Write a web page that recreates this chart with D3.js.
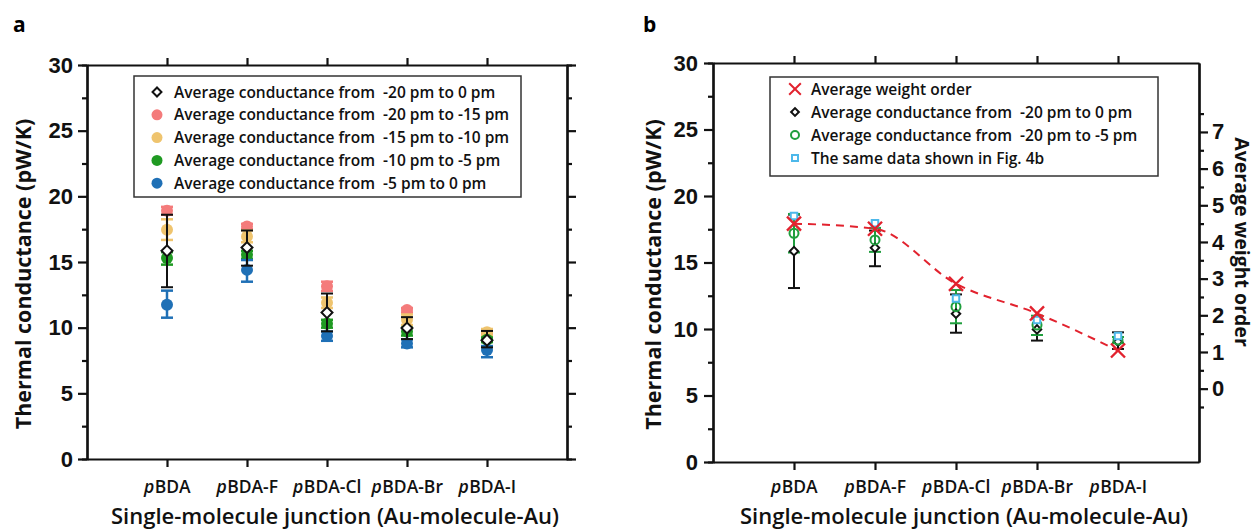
<!DOCTYPE html>
<html>
<head>
<meta charset="utf-8">
<script src="https://cdn.jsdelivr.net/npm/d3@7"></script>
<style>
  body { margin: 0; background: #fff; }
  svg { font-family: "Open Sans", "Noto Sans", sans-serif; }
  .leg { white-space: pre; }
</style>
</head>
<body>
<svg id="chart" width="1259" height="531"></svg>
<script>
// categories
const categories = ["BDA", "BDA-F", "BDA-Cl", "BDA-Br", "BDA-I"];

// average conductance -20 pm to 0 pm (both panels)
const avgAll = [15.85, 16.1, 11.15, 9.97, 9.05];
const avgAllLo = [13.08, 14.72, 9.72, 9.13, 8.5];
const avgAllHi = [18.6, 17.4, 12.6, 10.8, 9.75];

// panel a: windowed averages
const avg20to15 = [18.9, 17.7, 13.15, 11.35, 9.6];
const avg20to15Lo = [18.6, 17.5, 12.8, 11.15, 9.4];
const avg20to15Hi = [19.2, 17.9, 13.5, 11.5, 9.8];

const avg15to10 = [17.45, 16.95, 11.9, 10.6, 9.65];
const avg15to10Lo = [16.68, 16.5, 11.5, 10.2, 9.4];
const avg15to10Hi = [18.25, 17.4, 12.3, 11.0, 9.9];

const avg10to5 = [15.3, 15.55, 10.3, 9.7, 9.08];
const avg10to5Lo = [14.8, 15.25, 10.0, 9.4, 8.9];
const avg10to5Hi = [15.75, 15.85, 10.6, 10.0, 9.25];

const avg5to0 = [11.75, 14.4, 9.37, 8.8, 8.3];
const avg5to0Lo = [10.76, 13.5, 9.0, 8.5, 7.75];
const avg5to0Hi = [12.82, 15.15, 9.7, 9.1, 8.6];

// panel b
const weightOrder = [4.5, 4.36, 2.86, 2.05, 1.04];
const avg20to5 = [17.2, 16.7, 11.68, 10.3, 9.17];
const avg20to5Lo = [15.75, 15.8, 10.43, 9.55, 8.95];
const avg20to5Hi = [18.65, 17.6, 12.93, 11.0, 9.4];
const fig4b = [18.5, 17.95, 12.3, 10.68, 9.47];

const yTicks = [0, 5, 10, 15, 20, 25, 30];
const yMinor = [2.5, 7.5, 12.5, 17.5, 22.5, 27.5];
const wTicks = [0, 1, 2, 3, 4, 5, 6, 7];
const wMinor = [-0.5, 0.5, 1.5, 2.5, 3.5, 4.5, 5.5, 6.5, 7.5];

const svg = d3.select("#chart");
const idx = d3.range(categories.length);

function frame(g, x, y, o) {
  // minor ticks first
  g.append("g").attr("transform", `translate(${o.left},0)`)
    .call(d3.axisLeft(y).tickValues(yMinor).tickSize(5).tickFormat(""));
  const la = g.append("g").attr("transform", `translate(${o.left},0)`)
    .call(d3.axisLeft(y).tickValues(yTicks).tickSize(9).tickPadding(o.pad).tickSizeOuter(0));
  la.selectAll("text").attr("font-size", 22).attr("font-weight", 600).attr("fill", "#111");

  g.append("g").attr("transform", `translate(0,${o.bottom})`)
    .call(d3.axisBottom(x).tickValues(idx.map(i => i + 1)).tickSize(8).tickFormat("").tickSizeOuter(0));
  g.append("g").attr("transform", `translate(0,${o.top})`)
    .call(d3.axisTop(x).tickValues(idx.map(i => i + 1)).tickSize(7).tickFormat("").tickSizeOuter(0));

  g.selectAll(".domain, .tick line").attr("stroke", "#111").attr("stroke-width", 2.2);

  // category labels: italic "p" + name, centred on the tick
  categories.forEach((c, i) => {
    const lg = g.append("g");
    const pre = lg.append("text").attr("y", 493).attr("font-size", 17.5)
      .attr("font-weight", 600).attr("font-style", "italic").attr("fill", "#111").text("p");
    const rest = lg.append("text").attr("y", 493).attr("font-size", 17.5)
      .attr("font-weight", 600).attr("fill", "#111").text(c);
    const w1 = pre.node().getComputedTextLength();
    const w2 = rest.node().getComputedTextLength();
    const x0 = x(i + 1) - (w1 + w2) / 2;
    pre.attr("x", x0);
    rest.attr("x", x0 + w1 + 0.5);
  });

  g.append("text")
    .attr("x", (o.left + o.right) / 2 + 8)
    .attr("y", 524)
    .attr("text-anchor", "middle")
    .attr("font-size", 22)
    .attr("font-weight", 600)
    .attr("fill", "#111")
    .text("Single-molecule junction (Au-molecule-Au)");

  g.append("text")
    .attr("transform", `translate(${o.ytitle},${(o.top + o.bottom) / 2 + 12}) rotate(-90)`)
    .attr("text-anchor", "middle")
    .attr("font-size", 21.5)
    .attr("font-weight", 700)
    .attr("fill", "#111")
    .text("Thermal conductance (pW/K)");
}

function errBars(g, x, y, vals, lo, hi, color, cap, width) {
  const e = g.append("g").attr("stroke", color).attr("stroke-width", width || 2);
  idx.forEach(i => {
    const cx = x(i + 1);
    e.append("line").attr("x1", cx).attr("x2", cx).attr("y1", y(lo[i])).attr("y2", y(hi[i]));
    [lo[i], hi[i]].forEach(v => {
      e.append("line").attr("x1", cx - cap).attr("x2", cx + cap).attr("y1", y(v)).attr("y2", y(v));
    });
  });
}

function dots(g, x, y, vals, color, r) {
  g.append("g").selectAll("circle").data(vals).join("circle")
    .attr("cx", (d, i) => x(i + 1)).attr("cy", d => y(d))
    .attr("r", r).attr("fill", color);
}

function diamonds(g, x, y, vals, size, sw) {
  g.append("g").selectAll("path").data(vals).join("path")
    .attr("d", d3.symbol(d3.symbolSquare).size(size))
    .attr("transform", (d, i) => `translate(${x(i + 1)},${y(d)}) rotate(45)`)
    .attr("fill", "#fff").attr("stroke", "#111").attr("stroke-width", sw);
}

// ---------- panel a ----------
const oa = { left: 87, right: 567, top: 65, bottom: 459, pad: 5, ytitle: 31 };
const xa = d3.scaleLinear().domain([0, 6]).range([oa.left, oa.right]);
const ya = d3.scaleLinear().domain([0, 30]).range([oa.bottom, oa.top]);
const ga = svg.append("g");

// right axis ticks (no labels)
ga.append("g").attr("transform", `translate(${oa.right},0)`)
  .call(d3.axisRight(ya).tickValues(yMinor).tickSize(5).tickFormat(""));
ga.append("g").attr("transform", `translate(${oa.right},0)`)
  .call(d3.axisRight(ya).tickValues(yTicks).tickSize(9).tickFormat("").tickSizeOuter(0));
frame(ga, xa, ya, oa);

const seriesA = [
  { vals: avg20to15, lo: avg20to15Lo, hi: avg20to15Hi, color: "#f47b7b", label: "Average conductance from  -20 pm to -15 pm" },
  { vals: avg15to10, lo: avg15to10Lo, hi: avg15to10Hi, color: "#efc46e", label: "Average conductance from  -15 pm to -10 pm" },
  { vals: avg10to5, lo: avg10to5Lo, hi: avg10to5Hi, color: "#1f9a22", label: "Average conductance from  -10 pm to -5 pm" },
  { vals: avg5to0, lo: avg5to0Lo, hi: avg5to0Hi, color: "#1f70b6", label: "Average conductance from  -5 pm to 0 pm" }
];
seriesA.forEach(s => {
  errBars(ga, xa, ya, s.vals, s.lo, s.hi, s.color, 6, 2.5);
  dots(ga, xa, ya, s.vals, s.color, 6);
});
errBars(ga, xa, ya, avgAll, avgAllLo, avgAllHi, "#111", 6, 2);
diamonds(ga, xa, ya, avgAll, 60, 2);

// legend a
const lga = ga.append("g");
lga.append("rect").attr("x", 134).attr("y", 76).attr("width", 387).attr("height", 121)
  .attr("fill", "#fff").attr("stroke", "#333").attr("stroke-width", 1.5);
const legA = [{ label: "Average conductance from  -20 pm to 0 pm", diamond: true }].concat(seriesA);
legA.forEach((s, i) => {
  const ly = 92 + i * 22.8;
  if (s.diamond) {
    lga.append("path").attr("d", d3.symbol(d3.symbolSquare).size(40))
      .attr("transform", `translate(157,${ly}) rotate(45)`)
      .attr("fill", "#fff").attr("stroke", "#111").attr("stroke-width", 2);
  } else {
    lga.append("circle").attr("cx", 157).attr("cy", ly).attr("r", 5.5).attr("fill", s.color);
  }
  lga.append("text").attr("class", "leg").attr("x", 174).attr("y", ly + 5.5)
    .attr("font-size", 15.5).attr("font-weight", 600).attr("fill", "#111").text(s.label);
});

// ---------- panel b ----------
const ob = { left: 713, right: 1199, top: 63, bottom: 462, pad: 6, ytitle: 661 };
const xb = d3.scaleLinear().domain([0, 6]).range([ob.left, ob.right]);
const yb = d3.scaleLinear().domain([0, 30]).range([ob.bottom, ob.top]);
const wb = d3.scaleLinear().domain([-2, 8.88]).range([ob.bottom, ob.top]);
const gb = svg.append("g");

gb.append("g").attr("transform", `translate(${ob.right},0)`)
  .call(d3.axisRight(wb).tickValues(wMinor).tickSize(5).tickFormat("").tickSizeOuter(0));
const ra = gb.append("g").attr("transform", `translate(${ob.right},0)`)
  .call(d3.axisRight(wb).tickValues(wTicks).tickSize(9).tickPadding(4).tickSizeOuter(0));
ra.selectAll("text").attr("font-size", 22).attr("font-weight", 600).attr("fill", "#111");
frame(gb, xb, yb, ob);

gb.append("text")
  .attr("transform", `translate(1235,242) rotate(90)`)
  .attr("text-anchor", "middle")
  .attr("font-size", 19.5)
  .attr("font-weight", 700)
  .attr("fill", "#111")
  .text("Average weight order");

errBars(gb, xb, yb, avgAll, avgAllLo, avgAllHi, "#111", 6, 2);
errBars(gb, xb, yb, avg20to5, avg20to5Lo, avg20to5Hi, "#1f9e3d", 6, 2);
diamonds(gb, xb, yb, avgAll, 36, 2);
gb.append("g").selectAll("circle").data(avg20to5).join("circle")
  .attr("cx", (d, i) => xb(i + 1)).attr("cy", d => yb(d)).attr("r", 4.5)
  .attr("fill", "none").attr("stroke", "#1f9e3d").attr("stroke-width", 2);
gb.append("g").selectAll("path").data(fig4b).join("path")
  .attr("d", d3.symbol(d3.symbolSquare).size(42))
  .attr("transform", (d, i) => `translate(${xb(i + 1)},${yb(d)})`)
  .attr("fill", "#fff").attr("stroke", "#4db8ea").attr("stroke-width", 2);

const line = d3.line().x((d, i) => xb(i + 1)).y(d => wb(d)).curve(d3.curveMonotoneX);
gb.append("path").datum(weightOrder).attr("d", line)
  .attr("fill", "none").attr("stroke", "#e2222e").attr("stroke-width", 2).attr("stroke-dasharray", "8,6");
const xSym = d3.symbolX || d3.symbolCross;
gb.append("g").selectAll("path").data(weightOrder).join("path")
  .attr("d", d3.symbol(xSym).size(130))
  .attr("transform", (d, i) => `translate(${xb(i + 1)},${wb(d)})`)
  .attr("fill", "none").attr("stroke", "#e2222e").attr("stroke-width", 2.4);

// legend b
const lgb = gb.append("g");
lgb.append("rect").attr("x", 770).attr("y", 77).attr("width", 388).attr("height", 99)
  .attr("fill", "#fff").attr("stroke", "#333").attr("stroke-width", 1.5);
const legB = ["Average weight order", "Average conductance from  -20 pm to 0 pm",
  "Average conductance from  -20 pm to -5 pm", "The same data shown in Fig. 4b"];
legB.forEach((t, i) => {
  const ly = 89 + i * 23;
  const m = lgb.append("g").attr("transform", `translate(795,${ly})`);
  if (i === 0) {
    m.append("path").attr("d", d3.symbol(xSym).size(90)).attr("fill", "none")
      .attr("stroke", "#e2222e").attr("stroke-width", 2);
  } else if (i === 1) {
    m.append("path").attr("d", d3.symbol(d3.symbolSquare).size(30)).attr("transform", "rotate(45)")
      .attr("fill", "#fff").attr("stroke", "#111").attr("stroke-width", 2);
  } else if (i === 2) {
    m.append("circle").attr("r", 4).attr("fill", "none").attr("stroke", "#1f9e3d").attr("stroke-width", 2);
  } else {
    m.append("path").attr("d", d3.symbol(d3.symbolSquare).size(36))
      .attr("fill", "#fff").attr("stroke", "#4db8ea").attr("stroke-width", 2);
  }
  lgb.append("text").attr("class", "leg").attr("x", 811).attr("y", ly + 5.5)
    .attr("font-size", 15.5).attr("font-weight", 600).attr("fill", "#111").text(t);
});

// panel letters
svg.append("text").attr("x", 13).attr("y", 32).attr("font-size", 21).attr("font-weight", 700).text("a");
svg.append("text").attr("x", 643).attr("y", 32).attr("font-size", 21).attr("font-weight", 700).text("b");
</script>
</body>
</html>
